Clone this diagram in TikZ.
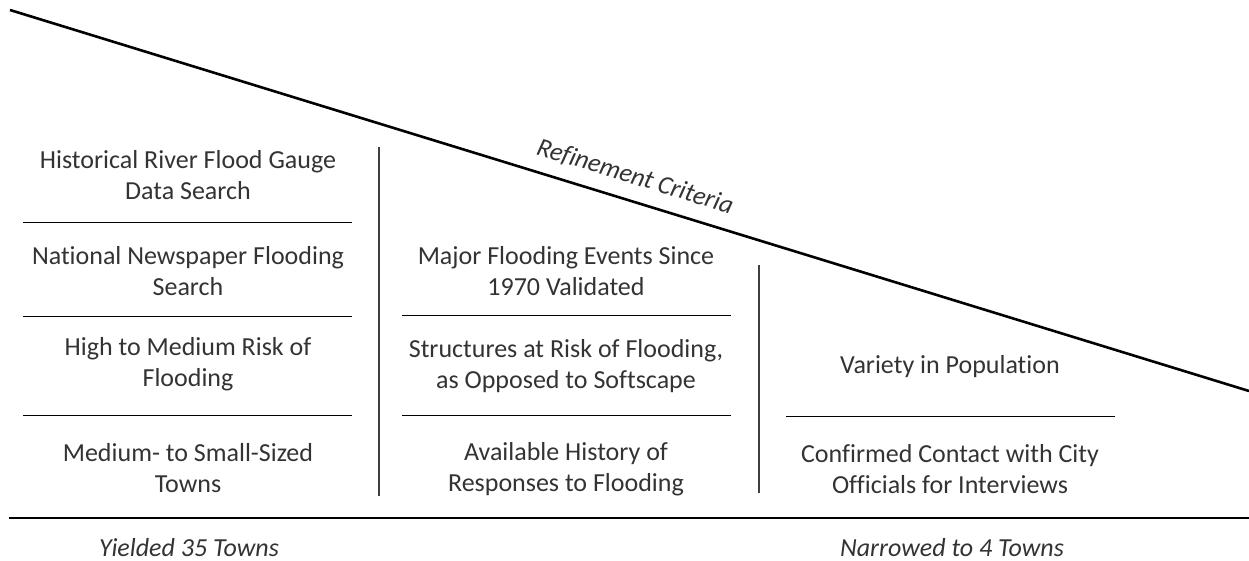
\documentclass[tikz,border=0pt]{standalone}
\usepackage{fontspec}
\setmainfont{Carlito}[Ligatures=NoCommon]
\begin{document}
\begin{tikzpicture}[x=1pt,y=-1pt,
  lbl/.style={align=center,font=\fontsize{26}{31.5}\selectfont,text=black!80,inner sep=0pt},
  ital/.style={font=\fontsize{26}{31.5}\selectfont\itshape,text=black!80,inner sep=0pt},
  rule/.style={line width=1pt},
  sep/.style={line width=1.3pt,black!75},
  thick rule/.style={line width=2.6pt}]
\useasboundingbox (0,0) rectangle (1249,561);
% diagonal
\coordinate (d1) at (10,10);
\coordinate (d2) at (1249,391);
\draw[thick rule] (d1) -- (d2);
\node[ital,rotate=-17.1] (crit) at (635,177) {Refinement Criteria};
% column 1
\node[lbl] (c1a) at (188,175) {Historical River Flood Gauge\\Data Search};
\node[lbl] (c1b) at (188,271) {National Newspaper Flooding\\Search};
\node[lbl] (c1c) at (188,364) {High to Medium Risk of\\Flooding};
\node[lbl] (c1d) at (188,468) {Medium- to Small-Sized\\Towns};
\coordinate (h1l) at (23,223); \coordinate (h1r) at (352,223);
\coordinate (h2l) at (23,316); \coordinate (h2r) at (352,316);
\coordinate (h3l) at (23,415); \coordinate (h3r) at (352,415);
\draw[rule] (h1l) -- (h1r);
\draw[rule] (h2l) -- (h2r);
\draw[rule] (h3l) -- (h3r);
% separator 1
\coordinate (v1t) at (379,147); \coordinate (v1b) at (379,496);
\draw[sep] (v1t) -- (v1b);
% column 2
\node[lbl] (c2a) at (566,271) {Major Flooding Events Since\\1970 Validated};
\node[lbl] (c2b) at (566,366) {Structures at Risk of Flooding,\\as Opposed to Softscape};
\node[lbl] (c2c) at (566,469) {Available History of\\Responses to Flooding};
\coordinate (h4l) at (402,315); \coordinate (h4r) at (731,315);
\coordinate (h5l) at (402,415); \coordinate (h5r) at (731,415);
\draw[rule] (h4l) -- (h4r);
\draw[rule] (h5l) -- (h5r);
% separator 2
\coordinate (v2t) at (759,265); \coordinate (v2b) at (759,493);
\draw[sep] (v2t) -- (v2b);
% column 3
\node[lbl] (c3a) at (950,367) {Variety in Population};
\node[lbl] (c3b) at (950,469) {Confirmed Contact with City\\Officials for Interviews};
\coordinate (h6l) at (786,416); \coordinate (h6r) at (1115,416);
\draw[rule] (h6l) -- (h6r);
% bottom
\coordinate (bl) at (9,518); \coordinate (br) at (1249,518);
\draw[thick rule] (bl) -- (br);
\node[ital] (y35) at (189,548) {Yielded 35 Towns};
\node[ital] (n4) at (952,548) {Narrowed to 4 Towns};
\end{tikzpicture}
\end{document}
